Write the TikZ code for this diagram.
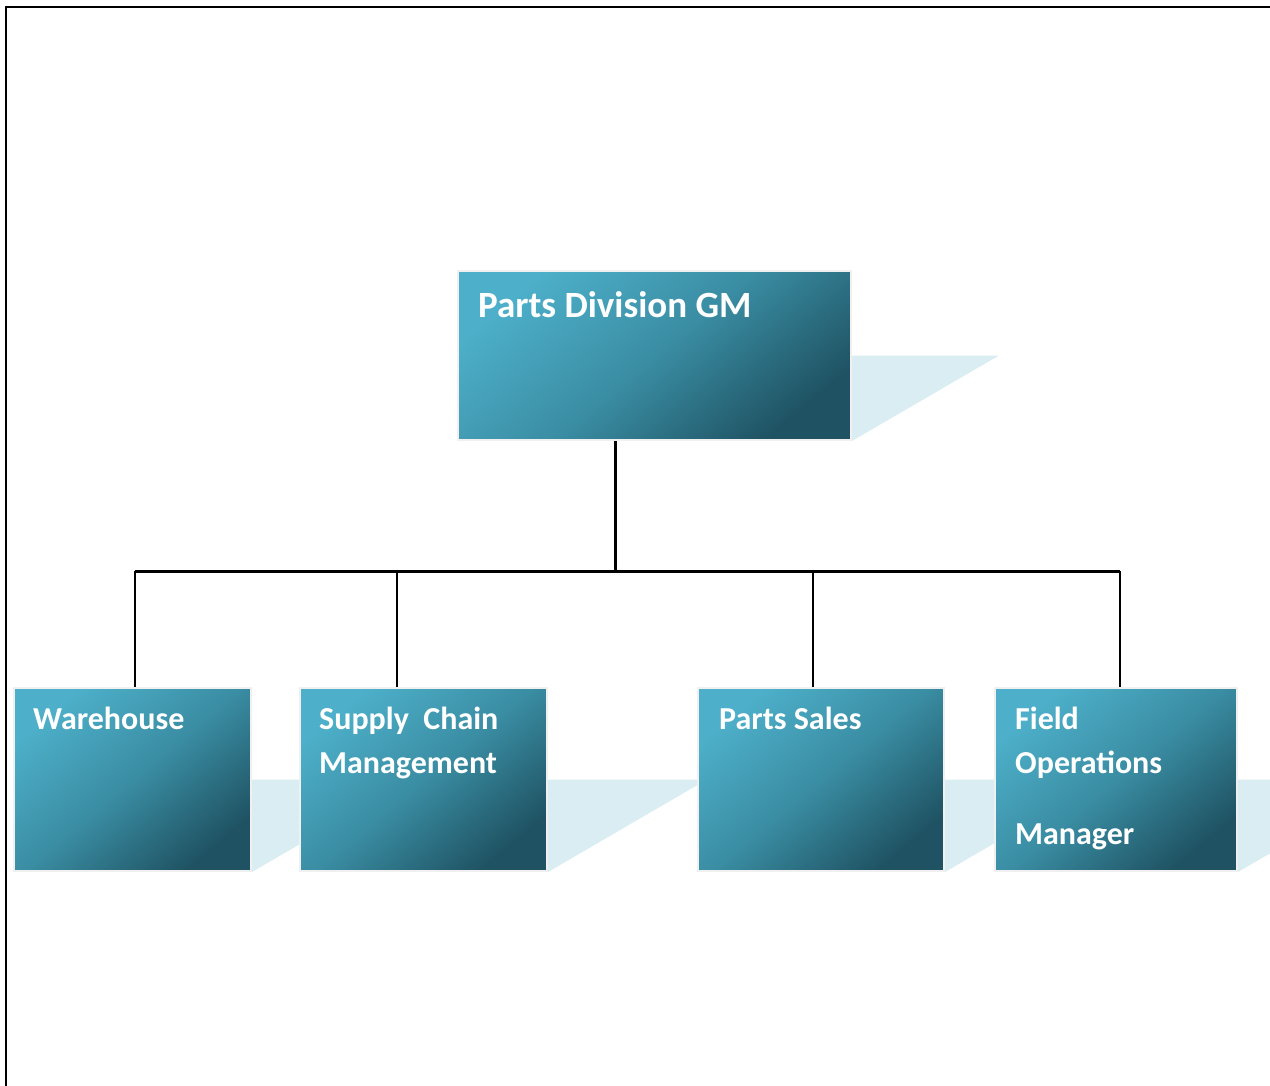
\documentclass[tikz,border=0pt]{standalone}
\usepackage{fontspec}
\setmainfont{Carlito}
\usetikzlibrary{calc}
\definecolor{tealL}{HTML}{4DAFC9}
\definecolor{tealD}{HTML}{1F5363}
\definecolor{tealM}{HTML}{3A8DA3}
\definecolor{boxedge}{HTML}{F0F0F0}
\definecolor{shadowblue}{HTML}{DAEDF3}
\pgfdeclarelayer{background}
\pgfsetlayers{background,main}
\begin{document}
\begin{tikzpicture}[x=1pt,y=-1pt,
  orgbox/.style={draw=boxedge, line width=2pt, top color=tealL, bottom color=tealD,
    middle color=tealM, shading angle=40, anchor=north west, inner sep=0pt},
  lbl/.style={text=white, font=\bfseries\fontsize{32}{38}\selectfont, inner sep=0pt, anchor=base west},
  toplbl/.style={lbl, font=\bfseries\fontsize{37}{44}\selectfont},
  shadowpoly/.style={fill=shadowblue},
  trunk/.style={line width=3pt, black},
  drop/.style={line width=2pt, black}]
\clip (0,0) rectangle (1270,1086);
% outer frame (open to the right and bottom)
\draw[line width=2pt] (6,1090) -- (6,7) -- (1275,7);

% boxes
\node[orgbox, minimum width=393pt, minimum height=169pt] (gm) at (457,270) {};
\node[orgbox, minimum width=237pt, minimum height=183pt] (wh) at (13,687) {};
\node[orgbox, minimum width=247pt, minimum height=183pt] (scm) at (299,687) {};
\node[orgbox, minimum width=246pt, minimum height=183pt] (ps) at (697,687) {};
\node[orgbox, minimum width=242pt, minimum height=183pt] (fo) at (994,687) {};

% light shadows behind the right side of each box
\begin{pgfonlayer}{background}
\foreach \b/\w in {gm/147,wh/159,scm/159,ps/159,fo/159}{
  \fill[shadowpoly] (\b.east) -- ($(\b.east)+(\w,0)$) -- (\b.south east) -- cycle;
}
\end{pgfonlayer}

% labels
\node[toplbl] (gm-t) at ($(gm.north west)+(21,48)$) {Parts Division GM};
\node[lbl] (wh-t) at ($(wh.north west)+(20,42)$) {Warehouse};
\node[lbl] (scm-t1) at ($(scm.north west)+(20,42)$) {Supply\ \ Chain};
\node[lbl] (scm-t2) at ($(scm.north west)+(20,86)$) {Management};
\node[lbl] (ps-t) at ($(ps.north west)+(22,42)$) {Parts Sales};
\node[lbl] (fo-t1) at ($(fo.north west)+(21,42)$) {Field};
\node[lbl] (fo-t2) at ($(fo.north west)+(21,86)$) {Operations};
\node[lbl] (fo-t3) at ($(fo.north west)+(21,157)$) {Manager};

% connectors
\coordinate (busL) at (135,571);
\coordinate (busR) at (1120,571);
\coordinate (bus) at (615,571);
\coordinate (d1) at (135,571);
\coordinate (d2) at (397,571);
\coordinate (d3) at (813,571);
\coordinate (d4) at (1120,571);
\draw[trunk] (bus |- gm.south) -- (bus);
\draw[trunk] (busL) -- (busR);
\draw[drop] (d1) -- (d1 |- wh.north);
\draw[drop] (d2) -- (d2 |- scm.north);
\draw[drop] (d3) -- (d3 |- ps.north);
\draw[drop] (d4) -- (d4 |- fo.north);
\end{tikzpicture}
\end{document}
